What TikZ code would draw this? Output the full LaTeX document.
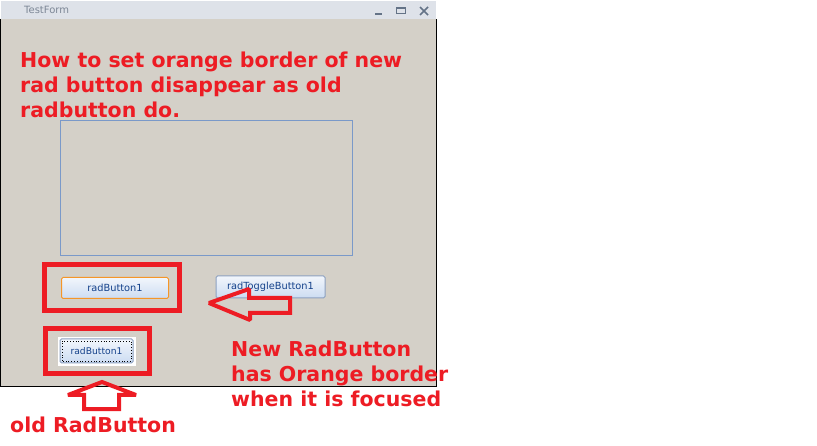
\documentclass[tikz,border=0pt]{standalone}
\usepackage{fontspec}
\setmainfont{DejaVu Sans}
\usetikzlibrary{arrows.meta, positioning}

\definecolor{markred}{RGB}{237,28,36}
\definecolor{formbg}{RGB}{212,208,200}
\definecolor{titlebg}{RGB}{222,226,233}
\definecolor{titlefg}{RGB}{125,135,150}
\definecolor{iconfg}{RGB}{100,115,135}
\definecolor{boxline}{RGB}{122,153,201}
\definecolor{btntext}{RGB}{21,66,139}
\definecolor{btntop}{RGB}{242,246,252}
\definecolor{btnbot}{RGB}{204,220,242}
\definecolor{btnline}{RGB}{140,160,192}
\definecolor{focusline}{RGB}{245,150,40}

\begin{document}
\begin{tikzpicture}[x=1pt, y=-1pt,
  radbtn/.style={rectangle, rounded corners=1.5pt, draw=btnline, line width=1pt,
    top color=btntop, bottom color=btnbot, inner sep=0pt, text=btntext,
    font=\fontsize{9.8}{11}\selectfont},
  redframe/.style={rectangle, draw=markred, line width=5pt, inner sep=0pt},
  redtext/.style={text=markred, inner sep=0pt, align=left,
    font=\bfseries\fontsize{20.5}{25}\selectfont},
  redarrow/.style={draw=markred, line width=4pt, line join=miter, miter limit=1.5}]
\useasboundingbox (0,0) rectangle (817,446);

% window
\fill[titlebg] (1,1) rectangle (436,19);
\fill[formbg] (1,19) rectangle (436,387);
\draw[black, line width=1pt] (0.5,19) -- (0.5,387) -- (436,387) -- (436,19);
\node (title) [anchor=west, text=titlefg, inner sep=0pt, font=\fontsize{10}{12}\selectfont] at (24,10) {TestForm};
\draw[iconfg, line width=1.5pt] (375,14) -- (382,14);
\draw[iconfg, line width=1pt] (396,8) rectangle (405,14);
\draw[iconfg, line width=2pt] (396,8.5) -- (405,8.5);
\draw[iconfg, line width=1.5pt] (420,7) -- (428,15) (428,7) -- (420,15);

% question
\node (question) [redtext, anchor=north west] at (20,52)
  {How to set orange border of new\\rad button disappear as old\\radbutton do.};

% controls
\node (panel) [rectangle, draw=boxline, line width=1pt, minimum width=292pt, minimum height=135pt, inner sep=0pt] at (206.3,187.6) {};
\node (newbtn) [radbtn, draw=focusline, minimum width=107pt, minimum height=21pt] at (115,288) {radButton1};
\node (toggle) [radbtn, minimum width=109pt, minimum height=22pt] at (270.5,287) {radToggleButton1};
\node (oldback) [rectangle, fill=white, minimum width=78pt, minimum height=29pt, inner sep=0pt] at (97,352) {};
\node (oldbtn) [radbtn, font=\fontsize{9.2}{11}\selectfont, minimum width=73pt, minimum height=24pt] at (96.5,351) {radButton1};
\draw[black, line width=0.8pt, dotted] ([shift={(2.5pt,2.5pt)}]oldbtn.south west) rectangle ([shift={(-2.5pt,-2.5pt)}]oldbtn.north east);

% red marks
\node (newframe) [redframe, minimum width=135pt, minimum height=46pt] at (112,287.5) {};
\node (oldframe) [redframe, minimum width=104pt, minimum height=45pt] at (97,351.5) {};
\draw[redarrow] (209,303) -- (249,289) -- (249,298) -- (290,298) -- (290,313) -- (250,313) -- (250,320) -- cycle;
\draw[redarrow] (102,382) -- (136,395) -- (119,395) -- (119,409) -- (84,409) -- (84,395) -- (68,395) -- cycle;

\node (newnote) [redtext, anchor=north west] at (231,341)
  {New RadButton\\has Orange border\\when it is focused};
\node (oldnote) [redtext, anchor=base west] at (10,432) {old RadButton};
\end{tikzpicture}
\end{document}
